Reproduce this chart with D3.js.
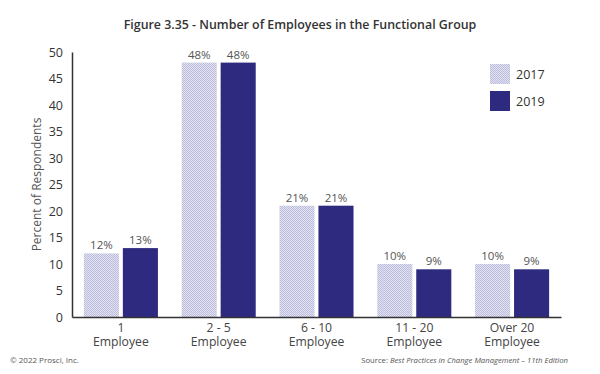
<!DOCTYPE html>
<html>
<head>
<meta charset="utf-8">
<script src="https://cdn.jsdelivr.net/npm/d3@7"></script>
<style>
  html, body { margin: 0; padding: 0; background: #fff; }
  svg { display: block; font-family: "Open Sans", sans-serif; }
</style>
</head>
<body>
<svg id="chart" width="600" height="374"></svg>
<script>
const categories = [["1", "Employee"], ["2 - 5", "Employee"], ["6 - 10", "Employee"], ["11 - 20", "Employee"], ["Over 20", "Employee"]];
const series = ["2017", "2019"];
const values2017 = [12, 48, 21, 10, 10];
const values2019 = [13, 48, 21, 9, 9];
const yTicks = [0, 5, 10, 15, 20, 25, 30, 35, 40, 45, 50];

(function () {
const svg = d3.select("#chart");
const defs = svg.append("defs");
const pat = defs.append("pattern").attr("id", "dots").attr("patternUnits", "userSpaceOnUse")
  .attr("width", 2).attr("height", 2);
pat.append("rect").attr("width", 2).attr("height", 2).attr("fill", "#e2e2f1");
pat.append("rect").attr("width", 1).attr("height", 1).attr("fill", "#bcbcdc");
pat.append("rect").attr("x", 1).attr("y", 1).attr("width", 1).attr("height", 1).attr("fill", "#bcbcdc");

const colors = { "2017": "url(#dots)", "2019": "#2e2a80" };

const mLeft = 72, mRight = 561, mTop = 52, mBottom = 317;
const x = d3.scaleBand().domain(d3.range(categories.length)).range([mLeft, mRight]).paddingInner(0.243).paddingOuter(0.1215);
const xs = d3.scaleBand().domain(series).range([0, x.bandwidth()]).paddingInner(0.1);
const y = d3.scaleLinear().domain([0, 50]).range([mBottom, mTop]);

// title
svg.append("text").attr("x", 300).attr("y", 28.5).attr("text-anchor", "middle")
  .attr("font-size", 12.4).attr("font-weight", 600).attr("fill", "#333")
  .text("Figure 3.35 - Number of Employees in the Functional Group");

// bars
const data = categories.map((c, i) => ({ i, vals: [values2017[i], values2019[i]] }));
const g = svg.append("g");
data.forEach(d => {
  series.forEach((s, j) => {
    const v = d.vals[j];
    g.append("rect")
      .attr("x", x(d.i) + xs(s)).attr("y", y(v))
      .attr("width", xs.bandwidth()).attr("height", y(0) - y(v))
      .attr("fill", colors[s]);
    g.append("text")
      .attr("x", x(d.i) + xs(s) + xs.bandwidth() / 2).attr("y", y(v) - 4)
      .attr("text-anchor", "middle").attr("font-size", 11.5).attr("fill", "#555")
      .text(v + "%");
  });
});

// y axis
const yAxis = d3.axisLeft(y).tickValues(yTicks).tickSize(0).tickPadding(9);
const ya = svg.append("g").attr("transform", `translate(${mLeft},0)`).call(yAxis);
ya.select(".domain").attr("stroke", "#333").attr("stroke-width", 1.5);
ya.selectAll("text").attr("font-size", 12.5).attr("fill", "#333").attr("font-family", "Open Sans, sans-serif");

// x axis
const xAxis = d3.axisBottom(x).tickSize(0).tickFormat("");
const xa = svg.append("g").attr("transform", `translate(0,${mBottom})`).call(xAxis);
xa.select(".domain").attr("stroke", "#333").attr("stroke-width", 1.5);
categories.forEach((c, i) => {
  const cx = x(i) + x.bandwidth() / 2;
  svg.append("text").attr("x", cx).attr("y", 332)
    .attr("text-anchor", "middle").attr("font-size", 12.2).attr("fill", "#444").text(c[0]);
  svg.append("text").attr("x", cx).attr("y", 345.5)
    .attr("text-anchor", "middle").attr("font-size", 12.2).attr("fill", "#444").text(c[1]);
});

// y-axis title
svg.append("text").attr("transform", `translate(41,${(mTop + mBottom) / 2}) rotate(-90)`)
  .attr("text-anchor", "middle").attr("font-size", 12).attr("fill", "#555")
  .text("Percent of Respondents");

// legend
series.forEach((s, j) => {
  const ly = 64 + j * 27;
  svg.append("rect").attr("x", 490).attr("y", ly).attr("width", 20).attr("height", 20).attr("fill", colors[s]);
  svg.append("text").attr("x", 516).attr("y", ly + 14.5).attr("font-size", 12.5).attr("fill", "#333").text(s);
});

// footer
svg.append("text").attr("x", 10).attr("y", 363).attr("font-size", 8).attr("fill", "#555")
  .text("© 2022 Prosci, Inc.");
const src = svg.append("text").attr("x", 568).attr("y", 363).attr("text-anchor", "end")
  .attr("font-size", 7.7).attr("fill", "#555");
src.append("tspan").text("Source: ");
src.append("tspan").attr("font-style", "italic").text("Best Practices in Change Management – 11th Edition");
})();
</script>
</body>
</html>
